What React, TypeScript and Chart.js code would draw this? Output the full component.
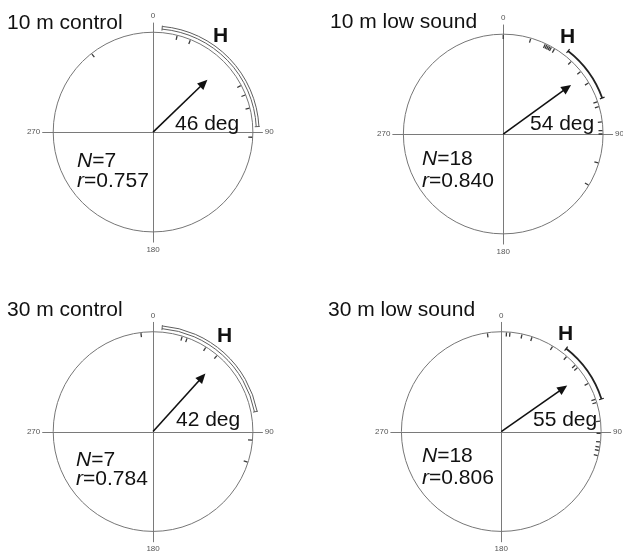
import React, { useEffect, useRef } from "react";
import { Chart, registerables } from "chart.js";

Chart.register(...registerables);

// ---------- data ----------
const panelTitles = ["10 m control", "10 m low sound", "30 m control", "30 m low sound"];
const bearings10mControl = [14, 22, 62, 68, 76, 93, 322];
const bearings10mLowSound = [0, 16, 25, 26, 27, 28, 29, 31, 43, 51, 59, 71, 74, 83, 88, 90, 107, 121];
const bearings30mControl = [353, 17, 20, 32, 40, 95, 108];
const bearings30mLowSound = [352, 3, 5, 12, 18, 31, 41, 48, 50, 61, 71, 73, 84, 91, 96, 99, 101, 104];
const meanAngles = [46, 54, 42, 55];
const rValues = ["0.757", "0.840", "0.784", "0.806"];
const ciStart = [5, 38, 5, 38];
const ciEnd = [87, 70, 79, 72];
const axisTickLabels = ["0", "90", "180", "270"];
const homeLabel = "H";

const bearingSets = [bearings10mControl, bearings10mLowSound, bearings30mControl, bearings30mLowSound];

// ---------- layout (pixels) ----------
const RADIUS_PX = 102;
const MARK_R = 0.975;

type Layout = {
  left: number; top: number; width: number; height: number;
  cx: number; cy: number;
  title: [number, number]; h: [number, number]; deg: [number, number];
  n: [number, number]; r: [number, number];
  arcStyle: "double" | "single";
};

const layouts: Layout[] = [
  { left: 0, top: 0, width: 311, height: 270, cx: 153, cy: 132,
    title: [-146, -103], h: [60, -90], deg: [22, -2], n: [-76, 35], r: [-76, 55], arcStyle: "double" },
  { left: 311, top: 0, width: 312, height: 270, cx: 193, cy: 134,
    title: [-173, -106], h: [57, -91], deg: [27, -4], n: [-81, 31], r: [-81, 53], arcStyle: "single" },
  { left: 0, top: 270, width: 311, height: 287, cx: 153, cy: 162,
    title: [-146, -116], h: [64, -90], deg: [23, -6], n: [-77, 34], r: [-77, 53], arcStyle: "double" },
  { left: 311, top: 270, width: 312, height: 287, cx: 191, cy: 162,
    title: [-173, -116], h: [57, -92], deg: [32, -6], n: [-79, 30], r: [-79, 52], arcStyle: "single" },
];

const FONT = "'Liberation Sans', Arial, Helvetica, sans-serif";
const rad = (d: number) => (d * Math.PI) / 180;

function makePlugin(index: number) {
  const L = layouts[index];
  return {
    id: "circular" + index,
    beforeDatasetsDraw(chart: any) {
      const { ctx } = chart;
      const sx = chart.scales.x;
      const sy = chart.scales.y;
      const cx = sx.getPixelForValue(0);
      const cy = sy.getPixelForValue(0);
      const R = sx.getPixelForValue(1) - cx;
      const rcx = Math.round(cx) + 0.5;
      const rcy = Math.round(cy) + 0.5;
      ctx.save();
      // axes
      ctx.strokeStyle = "#7a7a7a";
      ctx.lineWidth = 1;
      ctx.beginPath();
      ctx.moveTo(sx.getPixelForValue(-1.11), rcy);
      ctx.lineTo(sx.getPixelForValue(1.10), rcy);
      ctx.moveTo(rcx, sy.getPixelForValue(1.10));
      ctx.lineTo(rcx, sy.getPixelForValue(-1.11));
      ctx.stroke();
      // circle
      ctx.strokeStyle = "#767676";
      ctx.lineWidth = 1;
      ctx.beginPath();
      ctx.arc(cx, cy, R, 0, Math.PI * 2);
      ctx.stroke();
      // axis tick labels
      ctx.fillStyle = "#555";
      ctx.font = "8px " + FONT;
      ctx.textBaseline = "middle";
      ctx.textAlign = "center";
      ctx.fillText(axisTickLabels[0], cx, sy.getPixelForValue(1.165));
      ctx.fillText(axisTickLabels[2], cx, sy.getPixelForValue(-1.18));
      ctx.textAlign = "left";
      ctx.fillText(axisTickLabels[1], sx.getPixelForValue(1.11) + 1, cy);
      ctx.textAlign = "right";
      ctx.fillText(axisTickLabels[3], sx.getPixelForValue(-1.11) - 2, cy);
      // confidence arc
      const a0 = rad(ciStart[index] - 90);
      const a1 = rad(ciEnd[index] - 90);
      const tick = (a: number, r0: number, r1: number) => {
        ctx.moveTo(cx + Math.cos(a) * r0, cy + Math.sin(a) * r0);
        ctx.lineTo(cx + Math.cos(a) * r1, cy + Math.sin(a) * r1);
      };
      if (L.arcStyle === "double") {
        ctx.strokeStyle = "#5e5e5e";
        ctx.lineWidth = 1;
        ctx.beginPath();
        ctx.arc(cx, cy, R + 3.5, a0, a1);
        ctx.stroke();
        ctx.beginPath();
        ctx.arc(cx, cy, R + 6.2, a0, a1);
        ctx.stroke();
        ctx.beginPath();
        tick(a0, R + 2, R + 7);
        tick(a1, R + 2, R + 7);
        ctx.stroke();
      } else {
        ctx.strokeStyle = "#222";
        ctx.lineWidth = 1.8;
        ctx.beginPath();
        ctx.arc(cx, cy, R + 5.5, a0, a1);
        ctx.stroke();
        ctx.lineWidth = 1.2;
        ctx.beginPath();
        tick(a0, R + 3, R + 8);
        tick(a1, R + 3, R + 8);
        ctx.stroke();
      }
      ctx.restore();
    },
    afterDatasetsDraw(chart: any) {
      const { ctx } = chart;
      const sx = chart.scales.x;
      const sy = chart.scales.y;
      const cx = sx.getPixelForValue(0);
      const cy = sy.getPixelForValue(0);
      const mu = rad(meanAngles[index]);
      const rv = parseFloat(rValues[index]);
      const tx = sx.getPixelForValue(rv * Math.sin(mu));
      const ty = sy.getPixelForValue(rv * Math.cos(mu));
      const ang = Math.atan2(ty - cy, tx - cx);
      const headL = 10;
      const headW = 4.5;
      ctx.save();
      ctx.strokeStyle = "#111";
      ctx.fillStyle = "#111";
      ctx.lineWidth = 1.6;
      ctx.beginPath();
      ctx.moveTo(cx, cy);
      ctx.lineTo(tx - Math.cos(ang) * (headL - 2), ty - Math.sin(ang) * (headL - 2));
      ctx.stroke();
      ctx.beginPath();
      ctx.moveTo(tx, ty);
      const bx = tx - Math.cos(ang) * headL;
      const by = ty - Math.sin(ang) * headL;
      ctx.lineTo(bx + Math.sin(ang) * headW, by - Math.cos(ang) * headW);
      ctx.lineTo(bx - Math.sin(ang) * headW, by + Math.cos(ang) * headW);
      ctx.closePath();
      ctx.fill();

      // texts
      ctx.textBaseline = "alphabetic";
      ctx.textAlign = "left";
      ctx.fillStyle = "#111";
      const bcx = Math.round(cx);
      const bcy = Math.round(cy);
      ctx.font = "21px " + FONT;
      ctx.fillText(panelTitles[index], bcx + L.title[0], bcy + L.title[1]);
      ctx.fillText(meanAngles[index] + " deg", bcx + L.deg[0], bcy + L.deg[1]);
      ctx.font = "bold 21px " + FONT;
      ctx.fillText(homeLabel, bcx + L.h[0], bcy + L.h[1]);
      const drawStat = (sym: string, val: string, pos: [number, number]) => {
        ctx.font = "italic 21px " + FONT;
        const x0 = bcx + pos[0];
        const y0 = bcy + pos[1];
        ctx.fillText(sym, x0, y0);
        const w = ctx.measureText(sym).width;
        ctx.font = "21px " + FONT;
        ctx.fillText("=" + val, x0 + w, y0);
      };
      drawStat("N", String(bearingSets[index].length), L.n);
      drawStat("r", rValues[index], L.r);
      ctx.restore();
    },
  };
}

function Panel({ index }: { index: number }) {
  const ref = useRef<HTMLCanvasElement>(null);
  const L = layouts[index];
  useEffect(() => {
    const R = RADIUS_PX;
    const bearings = bearingSets[index];
    const chart = new Chart(ref.current as HTMLCanvasElement, {
      type: "scatter",
      data: {
        datasets: [
          {
            data: bearings.map((b) => ({ x: MARK_R * Math.sin(rad(b)), y: MARK_R * Math.cos(rad(b)) })),
            pointStyle: "line",
            pointRadius: 2,
            pointHoverRadius: 2,
            pointBorderWidth: 1.3,
            pointBorderColor: "#3a3a3a",
            pointBackgroundColor: "#3a3a3a",
            pointRotation: bearings.map((b) => b - 90),
            showLine: false,
          } as any,
        ],
      },
      options: {
        responsive: false,
        animation: false,
        events: [],
        layout: { padding: 0 },
        plugins: { legend: { display: false }, tooltip: { enabled: false }, title: { display: false } },
        scales: {
          x: { type: "linear", display: false, min: -L.cx / R, max: (L.width - L.cx) / R },
          y: { type: "linear", display: false, min: -(L.height - L.cy) / R, max: L.cy / R },
        },
      } as any,
      plugins: [makePlugin(index)],
    });
    return () => chart.destroy();
  }, [index]);
  return (
    <canvas
      ref={ref}
      width={L.width}
      height={L.height}
      style={{ position: "absolute", left: L.left, top: L.top, width: L.width, height: L.height }}
    />
  );
}

export default function App() {
  return (
    <div
      style={{
        position: "fixed",
        left: 0,
        top: 0,
        width: 623,
        height: 557,
        overflow: "hidden",
        background: "#fff",
      }}
    >
      {panelTitles.map((_, i) => (
        <Panel key={i} index={i} />
      ))}
    </div>
  );
}
